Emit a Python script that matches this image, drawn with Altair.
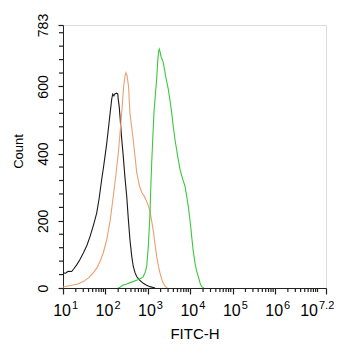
import altair as alt
import numpy as np
import pandas as pd

# log10(FITC-H) positions and counts
black_x = [1.000, 1.06, 1.12, 1.205, 1.26, 1.323, 1.40, 1.479, 1.56, 1.637, 1.72, 1.794, 1.85, 1.912,
           1.95, 1.990, 2.03, 2.068, 2.11, 2.148, 2.172, 2.20, 2.22, 2.266, 2.29, 2.304, 2.325, 2.344,
           2.38, 2.421, 2.46, 2.502, 2.54, 2.579, 2.62, 2.657, 2.70, 2.737, 2.80, 2.893, 2.97, 3.051, 3.17]
black_y = [45, 44, 50, 49, 58, 69, 85, 104, 126, 153, 188, 223, 265, 323,
           355, 392, 430, 472, 520, 562, 577, 572, 578, 580, 578, 560, 540, 510,
           450, 392, 330, 273, 205, 143, 95, 64, 45, 34, 24, 14, 8, 4, 0]

orange_x = [1.000, 1.2, 1.35, 1.479, 1.60, 1.714, 1.80, 1.872, 1.95, 2.030, 2.11, 2.186, 2.25, 2.304,
            2.35, 2.384, 2.43, 2.46, 2.485, 2.51, 2.545, 2.579, 2.657, 2.737, 2.80, 2.855, 2.92, 2.973,
            3.01, 3.051, 3.09, 3.129, 3.17, 3.209, 3.25, 3.287, 3.33, 3.364, 3.41, 3.46]
orange_y = [3, 8, 12, 19, 30, 45, 60, 79, 105, 143, 200, 273, 340, 402,
            470, 522, 600, 630, 641, 632, 600, 520, 440, 345, 305, 285, 272, 258,
            245, 228, 200, 170, 130, 94, 65, 44, 25, 14, 5, 0]

green_x = [2.30, 2.35, 2.414, 2.50, 2.58, 2.650, 2.75, 2.85, 2.893, 2.94, 2.973, 2.99, 3.011, 3.03,
           3.051, 3.07, 3.091, 3.12, 3.145, 3.18, 3.209, 3.235, 3.255, 3.27, 3.285, 3.31, 3.364, 3.42,
           3.482, 3.52, 3.562, 3.60, 3.640, 3.70, 3.758, 3.82, 3.876, 3.92, 3.954, 4.00, 4.034, 4.07,
           4.112, 4.15, 4.190, 4.23, 4.270, 4.32]
green_y = [0, 3, 9, 12, 16, 19, 24, 30, 34, 48, 64, 90, 123, 170,
           223, 300, 373, 455, 523, 580, 622, 680, 705, 711, 705, 690, 671, 630,
           592, 560, 522, 480, 442, 395, 353, 325, 303, 270, 243, 195, 153, 110,
           74, 50, 34, 15, 4, 0]

series_names = ["black", "orange", "green"]
series_colors = ["#1a1a1a", "#eba070", "#3cc83c"]

# labelled x ticks (powers of ten) and their exponent texts
tick_exponents = [1, 2, 3, 4, 5, 6, 7.2]
label_base = ["10"] * 7
label_exp = ["1", "2", "3", "4", "5", "6", "7.2"]
y_major = [0, 200, 400, 600, 783]

FONT = "Liberation Sans"

frames = []
for name, xs, ys in [("black", black_x, black_y), ("orange", orange_x, orange_y), ("green", green_x, green_y)]:
    frames.append(pd.DataFrame({"lx": xs, "count": ys, "series": name}))
df = pd.concat(frames, ignore_index=True)

labels_df = pd.DataFrame({"lx": tick_exponents, "base": label_base, "exp": label_exp})

minor_x = [d + np.log10(k) for d in range(1, 7) for k in range(2, 10)] + [7.0]
minor_y = [v for v in range(0, 781, 40) if v not in y_major]
minor_x_df = pd.DataFrame({"lx": minor_x})
minor_y_df = pd.DataFrame({"count": minor_y})

x_scale = alt.Scale(domain=[1, 7.2], nice=False, zero=False)
y_scale = alt.Scale(domain=[0, 783], nice=False, zero=True)

x_axis = alt.Axis(
    values=tick_exponents, labels=False, grid=False, ticks=True, tickSize=6,
    tickColor="#222222", domainColor="#222222", tickWidth=1.2, domainWidth=1,
    title="FITC-H", titleFont=FONT, titleFontSize=15, titleFontWeight="normal", titleColor="black",
    titleBaseline="alphabetic", titleY=50,
)
y_axis = alt.Axis(
    values=y_major, grid=False, ticks=True, tickSize=5,
    tickColor="#222222", domainColor="#222222", tickWidth=1.2, domainWidth=1,
    labelAngle=270, labelAlign="center", labelBaseline="alphabetic", labelPadding=11,
    labelFont=FONT, labelFontSize=14, labelColor="black", labelOverlap=False, labelFlush=False,
    title="Count", titleFont=FONT, titleFontSize=13, titleFontWeight="normal", titleColor="black",
    titleAngle=270, titleAlign="center", titleBaseline="alphabetic", titleX=-41, titleY=126,
)

lines = alt.Chart(df).mark_line(strokeWidth=1.1).encode(
    x=alt.X("lx:Q", scale=x_scale, axis=x_axis),
    y=alt.Y("count:Q", scale=y_scale, axis=y_axis),
    color=alt.Color("series:N", scale=alt.Scale(domain=series_names, range=series_colors), legend=None),
    detail="series:N",
    order="lx:Q",
)

minor_x_ticks = alt.Chart(minor_x_df).mark_rule(color="#222222", strokeWidth=1.2, clip=False).encode(
    x=alt.X("lx:Q", scale=x_scale, axis=x_axis), y=alt.value(263), y2=alt.value(267)
)
minor_y_ticks = alt.Chart(minor_y_df).mark_rule(color="#222222", strokeWidth=1.2, clip=False).encode(
    y=alt.Y("count:Q", scale=y_scale, axis=y_axis), x=alt.value(-4), x2=alt.value(0)
)

lab = alt.Chart(labels_df)
base_main = lab.transform_filter("datum.lx < 7.1").mark_text(
    align="right", baseline="alphabetic", dx=8, fontSize=16, font=FONT, color="black"
).encode(x=alt.X("lx:Q", scale=x_scale, axis=x_axis), y=alt.value(291), text="base:N")
exp_main = lab.transform_filter("datum.lx < 7.1").mark_text(
    align="left", baseline="alphabetic", dx=9, fontSize=11, font=FONT, color="black"
).encode(x=alt.X("lx:Q", scale=x_scale, axis=x_axis), y=alt.value(284), text="exp:N")
base_last = lab.transform_filter("datum.lx > 7.1").mark_text(
    align="right", baseline="alphabetic", dx=-8, fontSize=16, font=FONT, color="black"
).encode(x=alt.X("lx:Q", scale=x_scale, axis=x_axis), y=alt.value(291), text="base:N")
exp_last = lab.transform_filter("datum.lx > 7.1").mark_text(
    align="left", baseline="alphabetic", dx=-7, fontSize=11, font=FONT, color="black"
).encode(x=alt.X("lx:Q", scale=x_scale, axis=x_axis), y=alt.value(284), text="exp:N")

chart = alt.layer(lines, minor_x_ticks, minor_y_ticks, base_main, exp_main, base_last, exp_last).properties(
    width=263, height=263,
    autosize=alt.AutoSizeParams(type="none"),
    padding={"left": 55, "top": 17, "right": 8, "bottom": 54},
).configure_view(stroke="#222222", strokeWidth=1).configure(background="white")

chart.save("out.html", embed_options={"renderer": "svg", "actions": False})
